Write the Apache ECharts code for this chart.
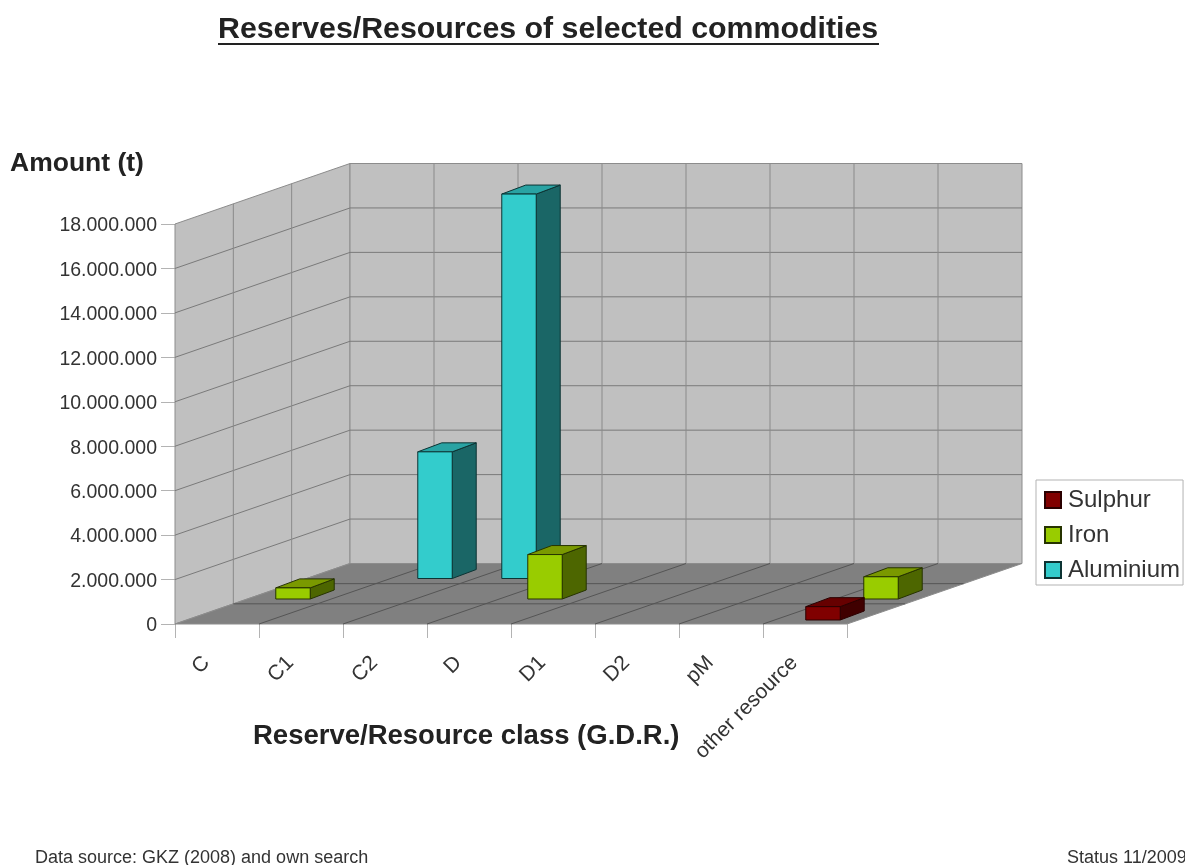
<!DOCTYPE html>
<html><head><meta charset="utf-8">
<style>html,body{margin:0;padding:0;background:#fff;overflow:hidden}#c{width:1185px;height:865px;filter:blur(0.45px)}</style>
<script src="https://cdn.jsdelivr.net/npm/echarts@6/dist/echarts.min.js"></script>
</head><body><div id="c"></div>
<script>
const categories = ['C','C1','C2','D','D1','D2','pM','other resource'];
const yTicks = [0,2000000,4000000,6000000,8000000,10000000,12000000,14000000,16000000,18000000];
const sulphur   = [null,null,null,null,null,null,null,600000];
const iron      = [500000,null,null,2000000,null,null,null,1000000];
const aluminium = [null,5700000,17300000,null,null,null,null,null];

const DEPTH = [175, -60.5];
const FF = '"Liberation Sans", Arial, sans-serif';
const rows = { Sulphur:[18,-4], Iron:[76,-25], Aluminium:[134,-45.5] };
const barDepth = [24,-9];
const shades = {
  Sulphur:  {front:'#800000', side:'#400000', top:'#660000', line:'#2a0000'},
  Iron:     {front:'#99cc00', side:'#4d6600', top:'#7a9900', line:'#263300'},
  Aluminium:{front:'#33cccc', side:'#1a6666', top:'#29a3a3', line:'#0d3333'}
};
const toData = a => a.map((v,i)=>v==null?null:[i,v]).filter(Boolean);

function renderFrame(params, api){
  const size = api.size([1,0])[0];
  const x0 = api.coord([0,0])[0]-size/2, y0 = api.coord([0,0])[1];
  const yTop = api.coord([0,yTicks[yTicks.length-1]])[1];
  const x1 = x0+size*categories.length;
  const [dx,dy] = DEPTH;
  const poly=(pts,fill)=>({type:'polygon',shape:{points:pts},style:{fill,stroke:'#8c8c8c',lineWidth:1}});
  const line=(a,b,c)=>({type:'line',shape:{x1:a[0],y1:a[1],x2:b[0],y2:b[1]},style:{stroke:c,lineWidth:1}});
  const kids=[
    poly([[x0,yTop],[x0+dx,yTop+dy],[x0+dx,y0+dy],[x0,y0]],'#c0c0c0'),
    poly([[x0+dx,yTop+dy],[x1+dx,yTop+dy],[x1+dx,y0+dy],[x0+dx,y0+dy]],'#c0c0c0'),
    poly([[x0,y0],[x0+dx,y0+dy],[x1+dx,y0+dy],[x1,y0]],'#808080')
  ];
  yTicks.forEach(t=>{
    const y=api.coord([0,t])[1];
    if(t>0&&t<yTicks[yTicks.length-1]){
      kids.push(line([x0,y],[x0+dx,y+dy],'#7a7a7a'));
      kids.push(line([x0+dx,y+dy],[x1+dx,y+dy],'#7a7a7a'));
    }
  });
  categories.forEach((c,i)=>{
    if(i===0) return;
    const x=x0+size*i;
    kids.push(line([x+dx,yTop+dy],[x+dx,y0+dy],'#8a8a8a'));
    kids.push(line([x,y0],[x+dx,y0+dy],'#555555'));
  });
  [1/3,2/3].forEach(f=>{
    kids.push(line([x0+dx*f,yTop+dy*f],[x0+dx*f,y0+dy*f],'#8a8a8a'));
    kids.push(line([x0+dx*f,y0+dy*f],[x1+dx*f,y0+dy*f],'#555555'));
  });
  return {type:'group',children:kids};
}

function renderBar(params, api){
  const name=params.seriesName, s=shades[name], off=rows[name];
  const top=api.coord([api.value(0),api.value(1)]);
  const base=api.coord([api.value(0),0]);
  const w=api.size([1,0])[0]*0.41;
  const l=top[0]+off[0]-w/2, r=l+w, b=base[1]+off[1], t=top[1]+off[1];
  const [ddx,ddy]=barDepth;
  const st=f=>({fill:f,stroke:s.line,lineWidth:1});
  return {type:'group',children:[
    {type:'polygon',shape:{points:[[r,t],[r+ddx,t+ddy],[r+ddx,b+ddy],[r,b]]},style:st(s.side)},
    {type:'polygon',shape:{points:[[l,t],[l+ddx,t+ddy],[r+ddx,t+ddy],[r,t]]},style:st(s.top)},
    {type:'polygon',shape:{points:[[l,t],[r,t],[r,b],[l,b]]},style:st(s.front)}
  ]};
}
const barSeries=(name,arr)=>({name,type:'custom',renderItem:renderBar,data:toData(arr),encode:{x:0,y:1},clip:false,
  itemStyle:{color:shades[name].front,borderColor:shades[name].line,borderWidth:1}});

const chart=echarts.init(document.getElementById('c'),null,{renderer:'canvas'});
chart.setOption({
  animation:false,
  backgroundColor:'#fff',
  textStyle:{fontFamily:FF},
  title:[
    {text:'Reserves/Resources of selected commodities',left:218,top:15,padding:0,textStyle:{fontFamily:FF,fontSize:30.3,fontWeight:'bold',color:'#222'}},
    {text:'Amount (t)',left:10,top:150,padding:0,textStyle:{fontFamily:FF,fontSize:26.5,fontWeight:'bold',color:'#222'}},
    {text:'Reserve/Resource class (G.D.R.)',left:253,top:722,padding:0,textStyle:{fontFamily:FF,fontSize:27.5,fontWeight:'bold',color:'#222'}},
    {text:'Data source: GKZ (2008) and own search',left:35,top:849,padding:0,textStyle:{fontFamily:FF,fontSize:18,fontWeight:'normal',color:'#333'}},
    {text:'Status 11/2009',left:1067,top:849,padding:0,textStyle:{fontFamily:FF,fontSize:18,fontWeight:'normal',color:'#333'}}
  ],
  graphic:[{type:'line',shape:{x1:218,y1:44,x2:879,y2:44},style:{stroke:'#222',lineWidth:2}}],
  legend:{
    orient:'vertical',left:1036,top:480,padding:[8,3,3,8],itemWidth:16,itemHeight:16,itemGap:11,
    data:['Sulphur','Iron','Aluminium'],backgroundColor:'#fff',borderColor:'#b3b3b3',borderWidth:1,
    icon:'rect',selectedMode:false,
    textStyle:{fontFamily:FF,fontSize:24,color:'#333',padding:[0,0,0,2]}
  },
  grid:{left:175,right:338,top:224,bottom:241,containLabel:false},
  xAxis:{type:'category',data:categories,boundaryGap:true,
    axisLine:{show:false},
    axisTick:{show:true,length:14,alignWithLabel:false,lineStyle:{color:'#b3b3b3'}},
    axisLabel:{rotate:45,interval:0,margin:25,padding:[0,15,0,0],fontFamily:FF,fontSize:21,color:'#333'},
    splitLine:{show:false}},
  yAxis:{type:'value',min:0,max:18000000,interval:2000000,
    axisLine:{show:false},
    axisTick:{show:true,length:14,lineStyle:{color:'#b3b3b3'}},
    axisLabel:{margin:18,fontFamily:FF,color:'#333',
      formatter:v=>'{n|'+String(v).replace(/\B(?=(\d{3})+$)/g,'.')+'}',
      rich:{n:{fontFamily:FF,fontSize:19.5,color:'#333',padding:[4,0,0,0]}}},
    splitLine:{show:false}},
  series:[
    {name:'Frame',type:'custom',renderItem:renderFrame,data:[[0,0]],encode:{x:0,y:1},clip:false,silent:true},
    barSeries('Aluminium',aluminium),
    barSeries('Iron',iron),
    barSeries('Sulphur',sulphur)
  ]
});
</script></body></html>
